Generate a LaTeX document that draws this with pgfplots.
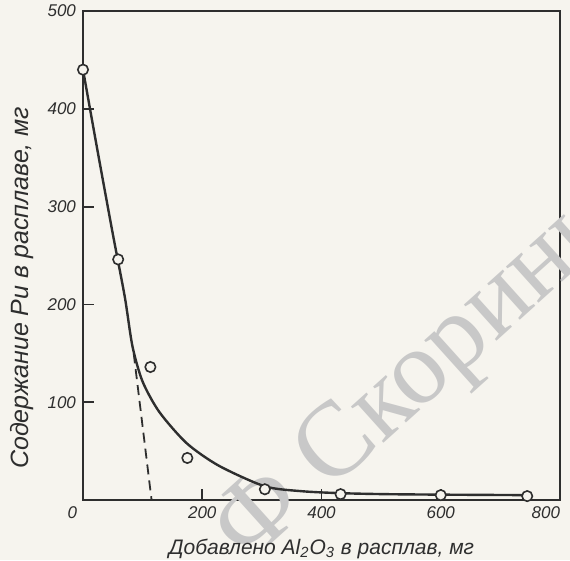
\documentclass[border=0pt]{standalone}
\usepackage{fontspec}
\setmainfont{Liberation Sans}
\newfontfamily\wmfont{Liberation Serif}
\usepackage{pgfplots}
\pgfplotsset{compat=1.18}
\usetikzlibrary{backgrounds}
\definecolor{paper}{HTML}{F6F4EE}
\definecolor{ink}{HTML}{2E2E2E}
\definecolor{wm}{HTML}{C8C8C8}
\begin{document}
\begin{tikzpicture}[background rectangle/.style={fill=paper,draw=none}, show background rectangle, inner frame sep=0pt]
\begin{axis}[
  scale only axis, width=238.5pt, height=244.5pt,
  xmin=0, xmax=800, ymin=0, ymax=500,
  xtick={0,200,400,600,800}, ytick={100,200,300,400,500},
  xticklabels={\makebox[0pt][r]{0\hspace{3pt}}, 200, 400, 600, \makebox[0pt][r]{800}},
  xtick pos=bottom, ytick pos=left,
  clip=false,
  axis line style={ink, line width=1.1pt},
  tick style={ink, line width=0.9pt},
  major tick length=5.5pt,
  /pgf/number format/assume math mode=true,
  tick label style={font=\fontsize{8.5}{10}\selectfont\itshape, text=ink},
  xlabel={Добавлено Al\textsubscript{2}O\textsubscript{3} в расплав, мг},
  ylabel={Содержание Pu в расплаве, мг},
  xlabel style={at={(axis description cs:0.5,-0.1)}, anchor=center, font=\fontsize{10.5}{12}\selectfont\itshape, text=ink},
  ylabel style={at={(axis description cs:-0.128,0.434)}, anchor=center, rotate=0, font=\fontsize{12.5}{14}\selectfont\itshape, text=ink},
]
\node[wm, rotate=42, anchor=center, font=\wmfont\fontsize{53}{53}\selectfont] at (axis cs:572,128) {Ф Скорины};
\addplot[ink, line width=1.2pt, smooth, tension=0.45] coordinates {
 (0,440) (25,355) (50,272) (70,208) (83,157) (100,121) (128,90) (174,58)
 (228,35) (305,14) (367,9) (432,7) (507,6) (600,5.5) (745,5)};
\addplot[ink, line width=0.9pt, dash pattern=on 5pt off 3pt] coordinates {(85,150) (115,0)};
\addplot[only marks, mark=*, mark size=2.6pt, mark options={fill=paper, draw=ink, line width=0.8pt}] coordinates {
 (0,440) (59,246) (113,136) (175,43) (305,11) (432,6) (600,5) (745,4)};
\end{axis}
\pgfresetboundingbox
\path[use as bounding box] ([shift={(-41.5pt,-30pt)}]current axis.south west) rectangle ([shift={(5pt,5.5pt)}]current axis.north east);
\end{tikzpicture}
\end{document}
